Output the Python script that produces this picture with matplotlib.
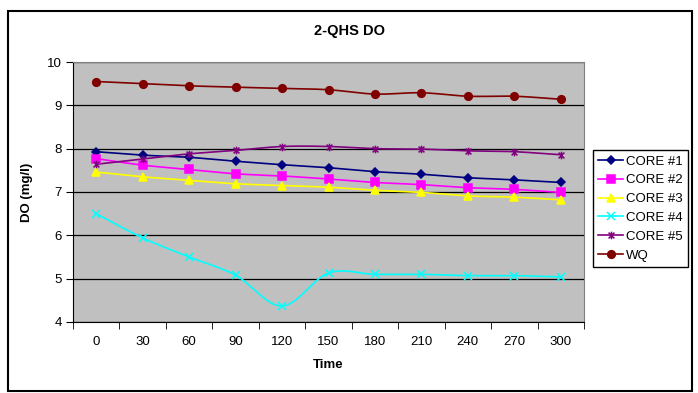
import numpy as np
import matplotlib
matplotlib.use("Agg")
import matplotlib.pyplot as plt
from matplotlib.path import Path
from matplotlib.patches import Rectangle

plt.rcParams["font.family"] = ["Liberation Sans", "DejaVu Sans"]

# data
times = [0, 30, 60, 90, 120, 150, 180, 210, 240, 270, 300]
core1 = [7.93, 7.85, 7.80, 7.71, 7.63, 7.56, 7.47, 7.41, 7.33, 7.28, 7.22]
core2 = [7.77, 7.62, 7.52, 7.42, 7.37, 7.30, 7.22, 7.17, 7.10, 7.06, 6.99]
core3 = [7.46, 7.35, 7.27, 7.19, 7.15, 7.11, 7.04, 6.99, 6.91, 6.88, 6.82]
core4 = [6.50, 5.94, 5.50, 5.08, 4.37, 5.13, 5.10, 5.10, 5.07, 5.07, 5.04]
core5 = [7.64, 7.76, 7.88, 7.96, 8.05, 8.05, 8.00, 7.99, 7.95, 7.93, 7.86]
wq = [9.55, 9.50, 9.45, 9.42, 9.39, 9.36, 9.26, 9.29, 9.21, 9.21, 9.14]

labels = ["CORE #1", "CORE #2", "CORE #3", "CORE #4", "CORE #5", "WQ"]
colors = ["#000080", "#FF00FF", "#FFFF00", "#00FFFF", "#800080", "#800000"]

# excel style asterisk: x with a vertical bar
asterisk = Path(
    [(-1, -1), (1, 1), (-1, 1), (1, -1), (0, -1.3), (0, 1.3)],
    [Path.MOVETO, Path.LINETO, Path.MOVETO, Path.LINETO, Path.MOVETO, Path.LINETO],
)
markers = ["D", "s", "^", "x", asterisk, "o"]
msizes = [4.0, 5.5, 5.5, 5.5, 5.5, 5.5]


def smooth(x, y, n=20):
    """Catmull-Rom curve through the points, like Excel's smoothed line."""
    x = np.asarray(x, float)
    y = np.asarray(y, float)
    px = np.concatenate([[2 * x[0] - x[1]], x, [2 * x[-1] - x[-2]]])
    py = np.concatenate([[2 * y[0] - y[1]], y, [2 * y[-1] - y[-2]]])
    xs, ys = [], []
    t = np.linspace(0, 1, n, endpoint=False)
    for i in range(1, len(px) - 2):
        for p, out in ((px, xs), (py, ys)):
            p0, p1, p2, p3 = p[i - 1], p[i], p[i + 1], p[i + 2]
            out.extend(0.5 * ((2 * p1) + (-p0 + p2) * t
                              + (2 * p0 - 5 * p1 + 4 * p2 - p3) * t ** 2
                              + (-p0 + 3 * p1 - 3 * p2 + p3) * t ** 3))
    xs.append(x[-1])
    ys.append(y[-1])
    return np.array(xs), np.array(ys)


fig = plt.figure(figsize=(6.98, 3.93), dpi=100)
ax = fig.add_axes([73 / 698, 1 - 322 / 393, (584 - 73) / 698, (322 - 62) / 393])
ax.set_facecolor("#C0C0C0")

idx = np.arange(len(times))
series = [core1, core2, core3, core4, core5, wq]
handles = []
for vals, lab, col, mk, ms in zip(series, labels, colors, markers, msizes):
    sx, sy = smooth(idx, vals)
    ax.plot(sx, sy, color=col, lw=1.2, zorder=3)
    ax.plot(idx, vals, ls="none", marker=mk, ms=ms, color=col,
            mec=col, mew=1.1, zorder=4)
    h, = ax.plot([], [], color=col, lw=1.2, marker=mk, ms=ms, mec=col, mew=1.1)
    handles.append(h)

ax.set_xlim(-0.5, len(times) - 0.5)
ax.set_ylim(4, 10)
ax.set_yticks(range(4, 11))
ax.yaxis.grid(True, color="black", lw=0.9)
ax.set_axisbelow(True)

ax.set_xticks(idx)
ax.set_xticklabels([str(t) for t in times])
ax.set_xticks(np.arange(-0.5, len(times)), minor=True)
ax.tick_params(axis="x", which="major", length=0, pad=10, labelsize=9.5)
ax.tick_params(axis="x", which="minor", length=5, direction="out", color="black")
ax.tick_params(axis="y", length=5, direction="out", labelsize=9.5, pad=3)

for side in ("top", "right"):
    ax.spines[side].set_color("#808080")
for side in ("left", "bottom"):
    ax.spines[side].set_color("black")

ax.set_xlabel("Time", fontsize=9.5, fontweight="bold", labelpad=8)
ax.set_ylabel("DO (mg/l)", fontsize=9.5, fontweight="bold", labelpad=10)
fig.text(0.5, 1 - 31 / 393, "2-QHS DO", ha="center", va="center",
         fontsize=10.5, fontweight="bold")

leg = fig.legend(handles, labels, loc="upper left",
                 bbox_to_anchor=(593 / 698, 1 - 150 / 393),
                 fontsize=9.5, fancybox=False, edgecolor="black",
                 framealpha=1, handlelength=1.9, handletextpad=0.2,
                 labelspacing=0.5, borderpad=0.4, borderaxespad=0)
leg.get_frame().set_linewidth(1.0)

fig.patches.append(Rectangle((8 / 698, 1 - 391 / 393), 684 / 698, 380 / 393,
                             transform=fig.transFigure, fill=False,
                             edgecolor="black", lw=1.5))

fig.savefig("out.png", dpi=100)
